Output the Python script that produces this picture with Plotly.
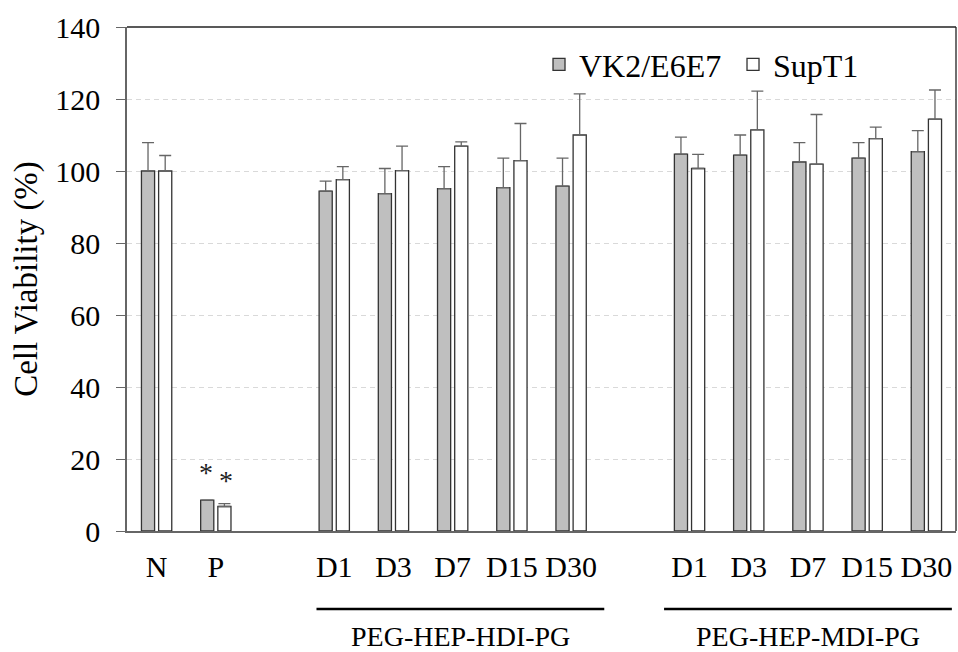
import plotly.graph_objects as go

# ---- data ----
groups = ["", "PEG-HEP-HDI-PG", "PEG-HEP-MDI-PG"]
group_labels = [["N", "P"],
                ["D1", "D3", "D7", "D15", "D30"],
                ["D1", "D3", "D7", "D15", "D30"]]
series_names = ["VK2/E6E7", "SupT1"]
vk2_values = [100, 8.6, 94.4, 93.7, 95.1, 95.4, 95.8, 104.7, 104.4, 102.5, 103.6, 105.4]
vk2_errors = [7.9, 0.0, 2.8, 7.0, 6.1, 8.2, 7.8, 4.7, 5.6, 5.4, 4.3, 5.8]
supt1_values = [100, 6.8, 97.6, 100.1, 106.9, 102.9, 110.0, 100.7, 111.4, 101.9, 109.0, 114.4]
supt1_errors = [4.3, 0.8, 3.6, 6.8, 1.2, 10.3, 11.4, 3.9, 10.8, 13.8, 3.2, 8.1]
star_label = "*"
star_category = "P"

# ---- slot positions (one empty slot between groups) ----
xpos, ticktext, group_spans = [], [], []
pos = 0
for gi, labs in enumerate(group_labels):
    start = pos
    for lab in labs:
        xpos.append(pos)
        ticktext.append(lab)
        pos += 1
    group_spans.append((start, pos - 1))
    pos += 1  # gap slot
n_slots = pos - 1

FONT = "Liberation Serif, Times New Roman, serif"
EDGE = "#333333"

fig = go.Figure()
fig.add_trace(go.Bar(
    x=xpos, y=vk2_values, name=series_names[0],
    marker=dict(color="#bfbfbf", line=dict(color=EDGE, width=1.3)),
    error_y=dict(type="data", array=vk2_errors, arrayminus=[0] * len(vk2_errors),
                 symmetric=False, color="#666666", thickness=1.3, width=6),
))
fig.add_trace(go.Bar(
    x=xpos, y=supt1_values, name=series_names[1],
    marker=dict(color="#ffffff", line=dict(color=EDGE, width=1.3)),
    error_y=dict(type="data", array=supt1_errors, arrayminus=[0] * len(supt1_errors),
                 symmetric=False, color="#666666", thickness=1.3, width=6),
))

# significance stars above P bars
pi = ticktext.index(star_category)
for vals, errs, shift, ys in ((vk2_values, vk2_errors, -10, 10), (supt1_values, supt1_errors, 10, 6)):
    fig.add_annotation(x=xpos[pi], y=vals[pi] + errs[pi], text=star_label, showarrow=False,
                       xshift=shift, yshift=ys, yanchor="bottom",
                       font=dict(family=FONT, size=28, color="#222222"))

# group underlines and labels
pads = {"PEG-HEP-HDI-PG": (-0.3, 0.56), "PEG-HEP-MDI-PG": (-0.43, 0.43)}
for gname, (a, b) in zip(groups, group_spans):
    if not gname:
        continue
    p0, p1 = pads[gname]
    fig.add_shape(type="line", xref="x", yref="paper", x0=a + p0, x1=b + p1,
                  y0=-0.155, y1=-0.155, line=dict(color="black", width=2.5))
    fig.add_annotation(x=(a + b) / 2 + (p0 + p1) / 2, xref="x", yref="paper", y=-0.21,
                       text=gname, showarrow=False, yanchor="middle",
                       font=dict(family=FONT, size=28, color="black"))

# top and right frame lines
fig.add_shape(type="line", xref="paper", yref="paper", x0=0, x1=1, y0=1, y1=1,
              line=dict(color="#222222", width=1.3))
fig.add_shape(type="line", xref="paper", yref="paper", x0=1, x1=1, y0=0, y1=1,
              line=dict(color="#222222", width=1.3))

fig.update_layout(
    width=958, height=652,
    margin=dict(l=127, r=2, t=27, b=121),
    paper_bgcolor="white", plot_bgcolor="white",
    barmode="group", bargap=0.42, bargroupgap=0.235,
    font=dict(family=FONT, size=30, color="black"),
    showlegend=True,
    legend=dict(orientation="h", x=0.497, xanchor="left", y=0.98, yanchor="top",
                bgcolor="rgba(0,0,0,0)", font=dict(family=FONT, size=32),
                itemwidth=30, entrywidth=149, tracegroupgap=0),
    xaxis=dict(range=[-0.5, n_slots - 0.5], tickvals=xpos, ticktext=ticktext,
               showline=True, linecolor="#666666", linewidth=1.5,
               ticks="", showgrid=False, zeroline=False,
               ticklabelstandoff=8, tickfont=dict(family=FONT, size=30)),
    yaxis=dict(range=[0, 140], dtick=20, showline=True, linecolor="#666666", linewidth=1.5,
               ticks="outside", ticklen=9, tickcolor="#666666", tickwidth=1.3,
               showgrid=True, gridcolor="#d9d9d9", griddash="5px,4px", gridwidth=1,
               zeroline=False, ticklabelstandoff=10,
               tickfont=dict(family=FONT, size=30),
               title=dict(text="Cell Viability (%)", standoff=8,
                          font=dict(family=FONT, size=33))),
)

fig.write_html("out.html")
